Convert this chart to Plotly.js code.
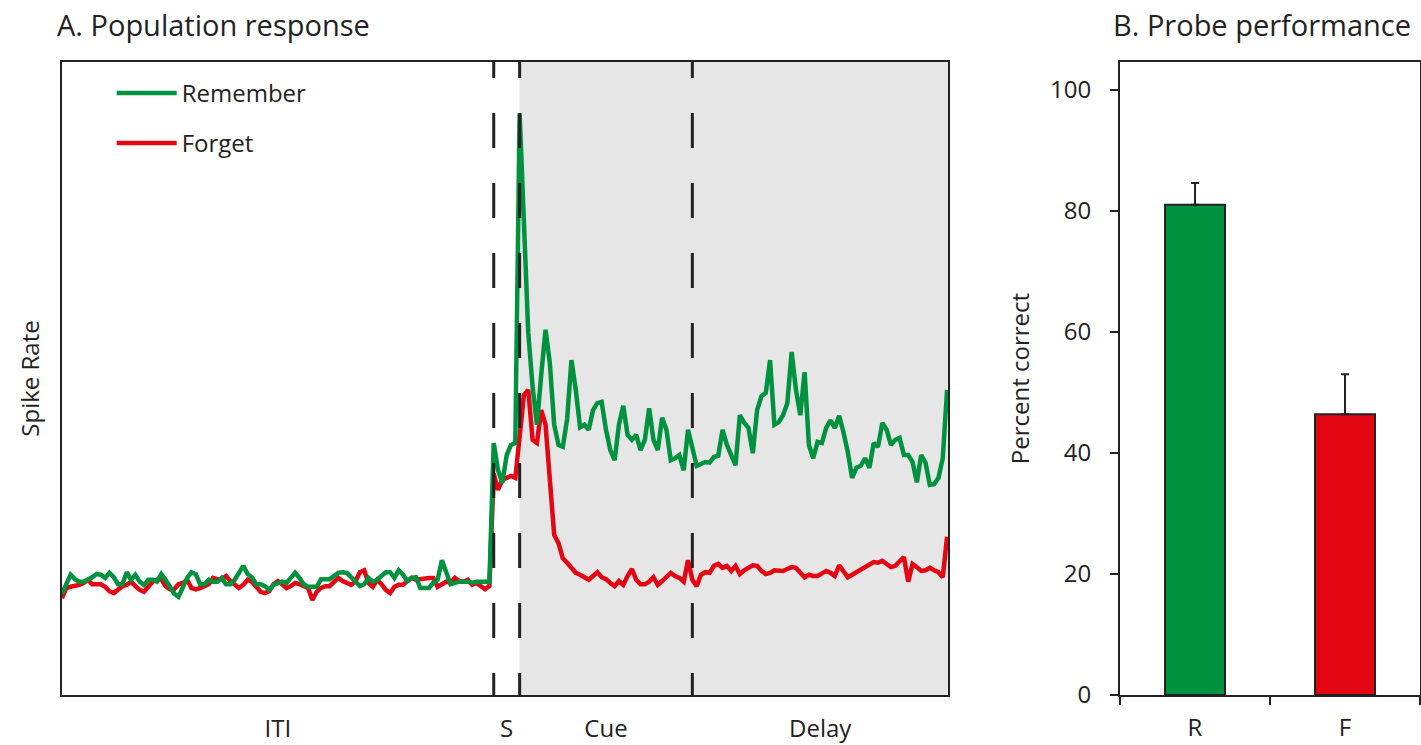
<!DOCTYPE html>
<html>
<head>
<meta charset="utf-8">
<script src="https://cdn.plot.ly/plotly-3.0.1.min.js"></script>
<style>html,body{margin:0;padding:0;background:#fff;}#chart{width:1421px;height:745px;}</style>
</head>
<body>
<div id="chart"></div>
<script>
// ---- Panel A: population response (25 ms bins, t = 0 at sample onset) ----
const binStart = -2.5;      // s, first bin
const binWidth = 0.025;     // s
const epochNames = ['ITI', 'S', 'Cue', 'Delay'];
const epochEdges = [-2.5, 0, 0.15, 1.15, 2.63];   // s

const rememberRate = [
16.0,17.7,19.0,18.3,17.9,17.9,18.2,18.6,19.1,19.0,
18.5,19.3,18.6,17.5,17.5,19.4,18.2,19.0,17.9,17.4,
18.2,18.2,17.9,19.1,18.2,17.2,16.0,15.5,17.1,18.5,
19.4,19.1,17.5,17.5,18.2,17.9,17.9,18.5,17.5,17.5,
18.2,19.4,20.4,19.1,18.6,17.5,17.5,17.2,16.6,17.4,
17.7,17.9,17.7,18.5,19.3,18.5,17.5,17.1,17.1,17.1,
18.3,18.3,18.3,18.8,19.3,19.4,19.3,18.6,17.9,17.2,
17.5,18.5,17.9,18.2,18.8,19.4,19.4,18.5,19.7,19.0,
18.0,18.5,18.6,16.9,16.9,16.9,17.7,18.2,21.3,19.3,
17.5,17.7,17.9,17.9,17.9,17.7,17.9,17.9,17.9,17.9,
39.8,35.5,33.5,37.9,39.5,39.8,91.9,75.0,57.2,48.7,
42.7,50.6,57.7,52.4,42.7,39.5,39.2,43.6,52.9,48.2,
42.3,42.7,41.9,45.0,46.1,46.3,41.9,38.7,37.1,42.7,
45.7,41.1,40.3,41.1,38.7,40.3,45.3,40.3,38.7,43.8,
41.9,37.1,37.4,37.9,35.5,41.9,38.7,
36.2,36.5,36.8,36.7,37.6,37.8,41.9,39.5,37.9,36.3,
44.2,43.0,42.2,38.2,45.0,47.2,47.7,52.9,42.7,43.1,
44.2,46.1,54.2,48.2,44.2,51.0,39.5,37.4,40.0,39.8,
42.2,43.4,42.2,44.1,41.5,38.4,34.3,35.9,36.2,37.4,
35.9,39.8,39.2,43.0,41.9,39.5,40.3,40.6,37.9,37.9,
36.8,33.6,37.9,36.7,33.2,33.3,34.3,37.4,48.2
];

const forgetRate = [
15.3,16.9,17.1,17.2,17.4,17.7,18.2,17.5,17.5,17.5,
17.1,16.4,16.1,16.7,17.2,17.4,17.9,17.2,16.6,16.3,
17.1,17.9,18.2,18.3,17.2,16.7,16.7,17.5,17.7,18.2,
16.9,16.7,16.9,17.2,17.5,18.5,18.3,18.3,18.8,18.0,
17.5,16.9,17.4,18.2,17.9,17.1,16.3,16.1,16.4,17.5,
18.0,17.5,16.9,17.2,17.7,17.5,17.2,16.9,15.0,16.3,
16.9,17.2,17.2,17.9,18.5,18.0,17.7,17.4,18.0,19.4,
19.7,17.7,17.1,18.2,17.5,16.6,16.1,17.1,17.4,17.4,
18.0,18.5,18.2,18.3,18.5,18.5,18.5,17.1,17.5,17.9,
17.7,18.5,18.0,17.9,18.2,17.4,17.7,17.1,16.7,17.2,
35.0,32.4,34.0,34.3,34.6,34.3,40.3,47.4,48.2,40.3,
39.8,45.0,42.7,33.6,25.3,24.0,21.6,20.9,20.2,19.3,
19.0,18.6,18.2,18.8,19.4,18.6,18.3,17.7,17.2,18.0,
17.4,18.8,19.9,18.2,17.5,17.5,17.9,18.6,17.4,18.0,
18.6,19.3,18.8,18.5,17.9,21.3,18.2,
17.2,19.0,19.4,19.3,20.4,20.7,20.1,20.4,19.6,20.4,
19.1,19.7,20.1,20.5,20.4,19.6,19.1,19.3,19.7,19.7,
19.6,19.9,20.2,20.1,19.3,18.6,19.0,18.8,18.8,19.3,
19.6,19.3,18.8,20.5,19.6,18.6,19.0,19.4,19.7,20.2,
20.7,21.0,20.9,21.2,20.7,20.2,20.4,21.0,21.8,17.9,
20.7,20.2,19.6,19.7,20.1,19.7,19.4,18.6,25.0
];

// ---- Panel B: probe performance ----
const probeLabels = ['R', 'F'];
const probeCorrect = [81.0, 46.4];
const probeSEM = [3.6, 6.6];

// ---- derived ----
const time = rememberRate.map((_, i) => +(binStart + i * binWidth).toFixed(3));
const epochMids = epochNames.map((_, k) => (epochEdges[k] + epochEdges[k + 1]) / 2);

const GREEN = '#00923f', RED = '#e30613', INK = '#222222';
const FONT = 'Open Sans, Noto Sans, sans-serif';

const traces = [
  { x: time, y: forgetRate, type: 'scatter', mode: 'lines', name: 'Forget',
    line: { color: RED, width: 4.5 }, legendgroup: 'f', legendrank: 2, xaxis: 'x', yaxis: 'y' },
  { x: time, y: rememberRate, type: 'scatter', mode: 'lines', name: 'Remember',
    line: { color: GREEN, width: 4.5 }, legendgroup: 'r', legendrank: 1, xaxis: 'x', yaxis: 'y' },
  { x: probeLabels, y: probeCorrect, type: 'bar', xaxis: 'x2', yaxis: 'y2', showlegend: false,
    width: 0.4,
    marker: { color: [GREEN, RED], line: { color: INK, width: 2 } },
    error_y: { type: 'data', array: probeSEM, arrayminus: [0, 0], symmetric: false,
               color: INK, thickness: 2, width: 4 } }
];

const yDomain = [0.0671, 0.9168];
const shapes = [
  { type: 'rect', xref: 'x', yref: 'y', x0: epochEdges[2], x1: epochEdges[4], y0: 0, y1: 100,
    fillcolor: '#e6e6e6', line: { width: 0 }, layer: 'below' }
];
[epochEdges[1], epochEdges[2], epochEdges[3]].forEach(t => {
  shapes.push({ type: 'line', xref: 'x', yref: 'y', x0: t, x1: t, y0: 103, y1: 0,
    line: { color: INK, width: 3, dash: '35px,35px' }, layer: 'above' });
});

const layout = {
  width: 1421, height: 745,
  margin: { l: 0, r: 0, t: 0, b: 0 },
  paper_bgcolor: '#ffffff', plot_bgcolor: 'rgba(0,0,0,0)',
  font: { family: FONT, color: INK, size: 24 },
  showlegend: true,
  legend: { x: 0.0786, y: 0.905, xanchor: 'left', yanchor: 'top', bgcolor: 'rgba(0,0,0,0)',
            font: { size: 24, family: FONT, color: INK }, traceorder: 'grouped', tracegroupgap: 16,
            itemwidth: 60 },
  xaxis: { domain: [0.0436, 0.6671], range: [epochEdges[0], epochEdges[4]], anchor: 'y',
           showline: true, mirror: true, linecolor: INK, linewidth: 2, showgrid: false, zeroline: false,
           ticks: '', tickvals: epochMids, ticktext: epochNames, ticklabelstandoff: 11,
           tickfont: { size: 24 } },
  yaxis: { domain: yDomain, range: [0, 100], anchor: 'x',
           showline: true, mirror: true, linecolor: INK, linewidth: 2, showgrid: false, zeroline: false,
           ticks: '', showticklabels: false,
           title: { text: 'Spike Rate', font: { size: 24 }, standoff: 14 } },
  xaxis2: { domain: [0.7882, 0.9993], anchor: 'y2', type: 'category', range: [-0.5, 1.5],
            showline: true, mirror: true, linecolor: INK, linewidth: 2, showgrid: false, zeroline: false,
            ticks: 'outside', tickson: 'boundaries', ticklen: 8, tickwidth: 2, tickcolor: INK,
            ticklabelstandoff: 10, tickfont: { size: 24 } },
  yaxis2: { domain: yDomain, anchor: 'x2', range: [0, 104.6],
            showline: true, mirror: true, linecolor: INK, linewidth: 2, showgrid: false, zeroline: false,
            ticks: 'outside', ticklen: 8, tickwidth: 2, tickcolor: INK,
            tickvals: [0, 20, 40, 60, 80, 100], ticklabelstandoff: 14, tickfont: { size: 24 },
            title: { text: 'Percent correct', font: { size: 24 }, standoff: 14 } },
  bargap: 0.6,
  shapes: shapes,
  annotations: [
    { text: 'A. Population response', xref: 'paper', yref: 'paper', x: 55 / 1421, y: 1 - 25 / 745,
      xanchor: 'left', yanchor: 'middle', showarrow: false, font: { size: 29, family: FONT, color: INK } },
    { text: 'B. Probe performance', xref: 'paper', yref: 'paper', x: 1111 / 1421, y: 1 - 25 / 745,
      xanchor: 'left', yanchor: 'middle', showarrow: false, font: { size: 29, family: FONT, color: INK } }
  ]
};

Plotly.newPlot('chart', traces, layout, { displayModeBar: false, staticPlot: true });
</script>
</body>
</html>
